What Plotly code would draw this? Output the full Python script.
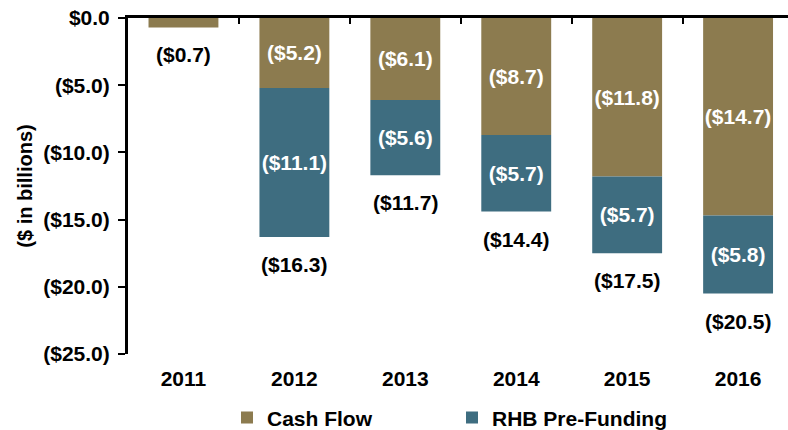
import plotly.graph_objects as go

years = ["2011", "2012", "2013", "2014", "2015", "2016"]
cash_flow = [-0.7, -5.2, -6.1, -8.7, -11.8, -14.7]
rhb_prefunding = [0.0, -11.1, -5.6, -5.7, -5.7, -5.8]
totals = [-0.7, -16.3, -11.7, -14.4, -17.5, -20.5]
y_ticks = [0, -5, -10, -15, -20, -25]
y_tick_labels = ["$0.0", "($5.0)", "($10.0)", "($15.0)", "($20.0)", "($25.0)"]

FONT = "Arial, Liberation Sans, sans-serif"
TAN = "#8C7B4F"
TEAL = "#3E6D80"
FS = 21


def fmt(v):
    return "(${:.1f})".format(abs(v))


cf_text = ["<b>" + fmt(v) + "</b>" if abs(v) >= 2 else "" for v in cash_flow]
rhb_text = ["<b>" + fmt(v) + "</b>" if abs(v) >= 2 else "" for v in rhb_prefunding]

fig = go.Figure()
fig.add_trace(go.Bar(
    x=years, y=cash_flow, name="<b>Cash Flow</b>", marker=dict(color=TAN, line=dict(width=0)),
    text=cf_text, textposition="inside", insidetextanchor="middle", textangle=0,
    textfont=dict(color="white", size=FS, family=FONT), constraintext="none",
    width=0.63, hoverinfo="skip",
))
fig.add_trace(go.Bar(
    x=years, y=rhb_prefunding, name="<b>RHB Pre-Funding</b>", marker=dict(color=TEAL, line=dict(width=0)),
    text=rhb_text, textposition="inside", insidetextanchor="middle", textangle=0,
    textfont=dict(color="white", size=FS, family=FONT), constraintext="none",
    width=0.63, hoverinfo="skip",
))

for i, t in enumerate(totals):
    fig.add_annotation(x=i, y=t, xref="x", yref="y", text="<b>" + fmt(t) + "</b>", showarrow=False,
                       yanchor="top", yshift=-14, font=dict(size=FS, color="black", family=FONT))

fig.add_trace(go.Scatter(x=[0, 5], y=[0, 0], xaxis="x2", mode="markers",
                         marker=dict(opacity=0), showlegend=False, hoverinfo="skip"))

fig.update_layout(
    barmode="relative",
    width=788, height=430,
    margin=dict(l=128, r=0, t=18, b=76),
    paper_bgcolor="white", plot_bgcolor="white",
    font=dict(family=FONT, size=FS, color="black"),
    showlegend=True,
    legend=dict(orientation="h", xref="paper", x=0.15, yref="container", y=0.028,
                xanchor="left", yanchor="middle",
                font=dict(size=FS, family=FONT), entrywidth=180, traceorder="normal"),
    xaxis=dict(type="category", range=[-0.5, 5.45], showline=False, ticks="",
               tickfont=dict(size=FS, family=FONT), ticklabelstandoff=10,
               tickprefix="<b>", ticksuffix="</b>", showgrid=False, automargin=False),
    xaxis2=dict(overlaying="x", side="top", range=[-0.5, 5.45], showline=True,
                linecolor="black", linewidth=3, ticks="inside", ticklen=6, tickwidth=1.5,
                tickcolor="black", tickvals=[0.5, 1.5, 2.5, 3.5, 4.5],
                showticklabels=False, showgrid=False, zeroline=False, automargin=False),
    yaxis=dict(range=[-25, 0], tickvals=y_ticks, ticktext=["<b>" + s + "</b>" for s in y_tick_labels],
               showline=True, linecolor="black", linewidth=3, ticks="outside", ticklen=7,
               tickwidth=2, tickcolor="black", showgrid=False, zeroline=False,
               tickfont=dict(size=FS, family=FONT), automargin=False, ticklabelstandoff=4,
               title=dict(text="<b>($ in billions)</b>", font=dict(size=FS - 1, family=FONT), standoff=6)),
)

fig.write_html("out.html", config={"displayModeBar": False},
               post_script="document.body.style.margin='0';document.body.style.overflow='hidden';")
